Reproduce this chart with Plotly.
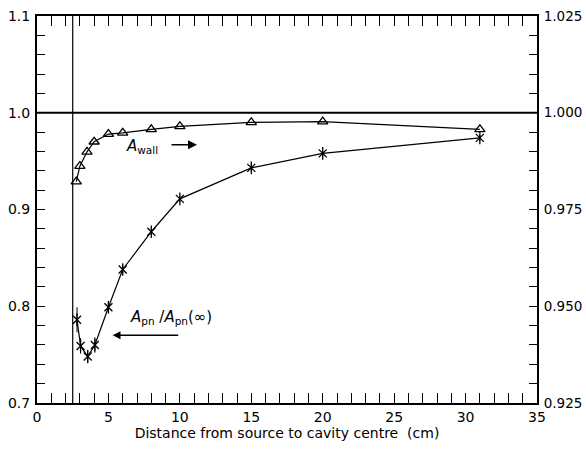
import plotly.graph_objects as go

# Data
dist_wall = [2.75, 3.0, 3.5, 4.0, 5.0, 6.0, 8.0, 10.0, 15.0, 20.0, 31.0]
a_wall = [0.9822, 0.9862, 0.9899, 0.9925, 0.9945, 0.9948, 0.9957, 0.9965, 0.9975, 0.9977, 0.9957]

dist_pn = [2.8, 3.05, 3.55, 4.05, 5.0, 6.0, 8.0, 10.0, 15.0, 20.0, 31.0]
a_pn = [0.786, 0.759, 0.748, 0.760, 0.799, 0.838, 0.877, 0.911, 0.943, 0.958, 0.974]
a_pn_err = [0.013, 0.008, 0.007, 0.008, 0.005, 0.004, 0.003, 0.003, 0.003, 0.003, 0.003]

x_ticks = [0, 5, 10, 15, 20, 25, 30, 35]
left_ticks = [0.7, 0.8, 0.9, 1.0, 1.1]
right_ticks = [0.925, 0.950, 0.975, 1.000, 1.025]

source_edge = 2.5
ref_level = 1.0

FONT = "DejaVu Sans"
fig = go.Figure()

# A_wall (right axis)
fig.add_trace(go.Scatter(
    x=dist_wall, y=a_wall, yaxis="y2", mode="lines+markers",
    line=dict(color="black", width=1.2),
    marker=dict(symbol="triangle-up-open", size=9, color="black", line=dict(width=1.3)),
    showlegend=False))

# A_pn / A_pn(inf) (left axis)
fig.add_trace(go.Scatter(
    x=dist_pn, y=a_pn, mode="lines+markers",
    line=dict(color="black", width=1.2),
    error_y=dict(type="data", array=a_pn_err, color="black", thickness=1, width=0),
    marker=dict(symbol="x-thin-open", size=8, color="black", line=dict(width=1.3)),
    showlegend=False))
fig.add_trace(go.Scatter(
    x=dist_pn, y=a_pn, mode="markers",
    marker=dict(symbol="line-ns-open", size=9, color="black", line=dict(width=1.3)),
    showlegend=False))

# reference lines
fig.add_shape(type="line", xref="x", yref="paper", x0=source_edge, x1=source_edge, y0=0, y1=1,
              line=dict(color="black", width=1.2))
fig.add_shape(type="line", xref="paper", yref="y", x0=0, x1=1, y0=ref_level, y1=ref_level,
              line=dict(color="black", width=1.8))

# annotations
fig.add_annotation(x=6.1, y=0.965, xref="x", yref="y", text="<i>A</i><sub>wall</sub>",
                   showarrow=False, xanchor="left", yanchor="middle",
                   font=dict(family=FONT, size=15, color="black"))
fig.add_annotation(x=11.2, y=0.967, xref="x", yref="y", ax=-27, ay=0, text="",
                   showarrow=True, arrowhead=2, arrowsize=1.2, arrowwidth=1.5, arrowcolor="black")
fig.add_annotation(x=6.4, y=0.788, xref="x", yref="y",
                   text="<i>A</i><sub>pn</sub> /<i>A</i><sub>pn</sub>(\u221e)",
                   showarrow=False, xanchor="left", yanchor="middle",
                   font=dict(family=FONT, size=15, color="black"))
fig.add_annotation(x=5.3, y=0.770, xref="x", yref="y", ax=67, ay=0, text="",
                   showarrow=True, arrowhead=2, arrowsize=1.2, arrowwidth=1.3, arrowcolor="black")

fig.update_layout(
    width=586, height=451,
    margin=dict(l=37, r=49, t=16, b=48),
    paper_bgcolor="white", plot_bgcolor="white",
    font=dict(family=FONT, size=14, color="black"),
    xaxis=dict(range=[0, 35], tickvals=x_ticks, ticks="inside", ticklen=10, tickwidth=1,
               tickcolor="black", showline=True, linecolor="black", linewidth=2,
               mirror="allticks", showgrid=False, zeroline=False, automargin=False,
               minor=dict(dtick=1, ticks="inside", ticklen=5, tickcolor="black", showgrid=False),
               title=dict(text="Distance from source to cavity centre  (cm)", standoff=2,
                          font=dict(size=14))),
    yaxis=dict(range=[0.7, 1.1], tickvals=left_ticks, tickformat=".1f", ticks="inside",
               ticklen=8, tickwidth=1, tickcolor="black", showline=True, linecolor="black",
               linewidth=2, showgrid=False, zeroline=False, automargin=False, ticklabelstandoff=2,
               minor=dict(dtick=0.02, ticks="inside", ticklen=8, tickcolor="black", showgrid=False)),
    yaxis2=dict(range=[0.925, 1.025], overlaying="y", side="right", tickvals=right_ticks,
                tickformat=".3f", ticks="inside", ticklen=8, tickwidth=1, tickcolor="black",
                showline=True, linecolor="black", linewidth=2, showgrid=False, zeroline=False,
                automargin=False, ticklabelstandoff=2, tickfont=dict(size=13.5),
                minor=dict(dtick=0.005, ticks="inside", ticklen=8, tickcolor="black",
                           showgrid=False)),
)

fig.write_html("out.html", config={"displayModeBar": False},
               post_script="document.body.style.margin='0px';document.body.style.overflow='hidden';")
